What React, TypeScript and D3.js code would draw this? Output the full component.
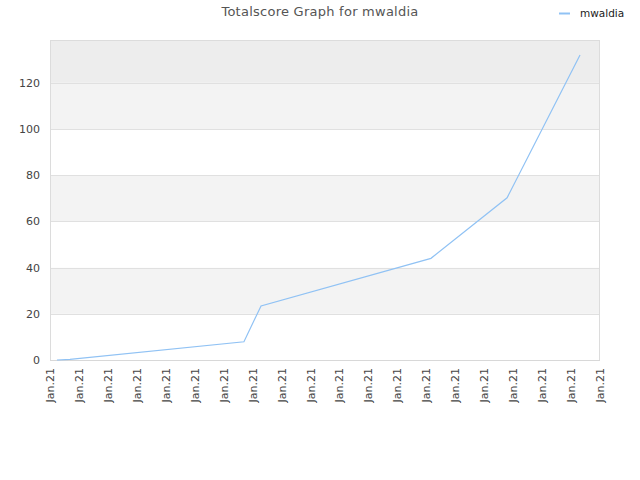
import React from "react";
import * as d3 from "d3";

const title = "Totalscore Graph for mwaldia";
const seriesName = "mwaldia";
const xTickLabels = Array.from({ length: 20 }, () => "Jan.21");
const pointPositions = [0.24, 0.69, 6.7, 7.29, 13.16, 15.79, 18.31];
const pointValues = [0, 0.3, 7.9, 23.4, 44, 70.2, 132];
const yTicks = [0, 20, 40, 60, 80, 100, 120];

const W = 640, H = 480;
const left = 50, right = 600, top = 40, bottom = 360;

export default function App() {
  const x = d3.scaleLinear().domain([0, xTickLabels.length - 1]).range([left, right]);
  const y = d3.scaleLinear().domain([0, 138.5]).range([bottom, top]);
  const line = d3.line<number>().x((_, i) => x(pointPositions[i])).y((d) => y(d));
  const font = "'DejaVu Sans', sans-serif";
  const bands = [];
  for (let v = 0; v < 140; v += 20) {
    const y0 = y(v);
    const y1 = v + 20 > 138.5 ? top : y(v + 20);
    const idx = v / 20;
    const fill = v >= 120 ? "#ededed" : idx % 2 === 1 ? "#f3f3f3" : "#ffffff";
    bands.push(<rect key={v} x={left} y={y1} width={right - left} height={y0 - y1} fill={fill} />);
  }
  return (
    <svg width={W} height={H} style={{ position: "absolute", left: 0, top: 0 }} fontFamily={font}>
      <rect x={0} y={0} width={W} height={H} fill="#fff" />
      {bands}
      {yTicks.map((t) => (
        <line key={t} x1={left} x2={right} y1={Math.round(y(t)) + 0.5} y2={Math.round(y(t)) + 0.5} stroke="#e0e0e0" />
      ))}
      <rect x={left + 0.5} y={top + 0.5} width={right - left - 1} height={bottom - top} fill="none" stroke="#dcdcdc" />
      <line x1={left} x2={right} y1={bottom + 0.5} y2={bottom + 0.5} stroke="#d8d8d8" />
      {yTicks.map((t) => (
        <text key={t} x={left - 10} y={y(t) + 4} textAnchor="end" fontSize={11} fill="#444">
          {t}
        </text>
      ))}
      {xTickLabels.map((l, i) => (
        <text
          key={i}
          transform={`translate(${x(i) + 4},${bottom + 8}) rotate(-90)`}
          textAnchor="end"
          fontSize={11}
          fill="#444"
        >
          {l}
        </text>
      ))}
      <path d={line(pointValues) || ""} fill="none" stroke="#90c2f4" strokeWidth={1.2} />
      <text x={320} y={16} textAnchor="middle" fontSize={13} fill="#555" letterSpacing={0.25}>
        {title}
      </text>
      <line x1={559} x2={570} y1={13.5} y2={13.5} stroke="#90c2f4" strokeWidth={2} />
      <text x={580} y={17} fontSize={10.5} fill="#222">
        {seriesName}
      </text>
    </svg>
  );
}
